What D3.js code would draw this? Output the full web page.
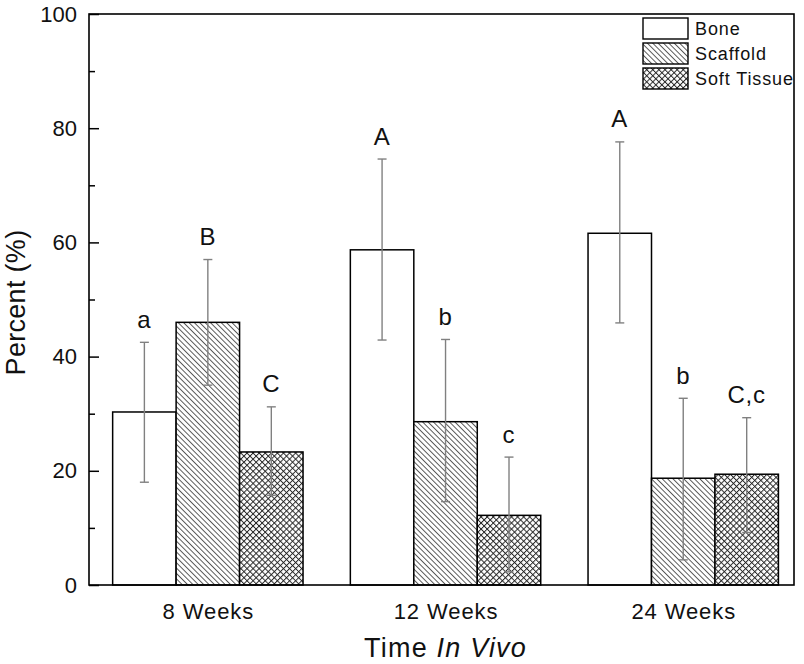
<!DOCTYPE html>
<html><head><meta charset="utf-8">
<script src="https://cdn.jsdelivr.net/npm/d3@7"></script>
<style>body{margin:0;background:#fff}svg{display:block}</style>
</head><body>
<svg id="c" width="804" height="664"></svg>
<script>
const groups = ["8 Weeks", "12 Weeks", "24 Weeks"];
const seriesNames = ["Bone", "Scaffold", "Soft Tissue"];
const boneMean = [30.3, 58.7, 61.6];
const boneErrLow = [18.0, 42.9, 45.9];
const boneErrHigh = [42.5, 74.6, 77.6];
const scaffoldMean = [46.0, 28.6, 18.7];
const scaffoldErrLow = [35.0, 14.6, 4.4];
const scaffoldErrHigh = [57.0, 43.0, 32.7];
const softMean = [23.3, 12.2, 19.4];
const softErrLow = [15.7, 2.3, 9.2];
const softErrHigh = [31.2, 22.4, 29.3];
const boneLabels = ["a", "A", "A"];
const scaffoldLabels = ["B", "b", "b"];
const softLabels = ["C", "c", "C,c"];
const yTicks = [0, 20, 40, 60, 80, 100];
const yMinorTicks = [10, 30, 50, 70, 90];

const series = [
  {name: seriesNames[0], mean: boneMean, lo: boneErrLow, hi: boneErrHigh, lab: boneLabels, fill: "#fff"},
  {name: seriesNames[1], mean: scaffoldMean, lo: scaffoldErrLow, hi: scaffoldErrHigh, lab: scaffoldLabels, fill: "url(#diag)"},
  {name: seriesNames[2], mean: softMean, lo: softErrLow, hi: softErrHigh, lab: softLabels, fill: "url(#cross)"}
];

const svg = d3.select("#c");
const FONT = "'Liberation Sans', Arial, sans-serif";
const x = d3.scaleLinear().domain([0.5, 3.466]).range([89, 794]);
const y = d3.scaleLinear().domain([0, 100]).range([585, 14]);
const barW = 0.267;

const defs = svg.append("defs");
const s1 = 3.8;
const p1 = defs.append("pattern").attr("id", "diag").attr("patternUnits", "userSpaceOnUse")
  .attr("width", s1).attr("height", 10).attr("patternTransform", "rotate(-45)");
p1.append("rect").attr("width", s1).attr("height", 10).attr("fill", "#fff");
p1.append("line").attr("x1", 0.5).attr("y1", 0).attr("x2", 0.5).attr("y2", 10).attr("stroke", "#444").attr("stroke-width", 0.9);
const s2 = 4.3;
const p2 = defs.append("pattern").attr("id", "cross").attr("patternUnits", "userSpaceOnUse")
  .attr("width", s2).attr("height", s2).attr("patternTransform", "rotate(-45)");
p2.append("rect").attr("width", s2).attr("height", s2).attr("fill", "#fff");
p2.append("line").attr("x1", 0.5).attr("y1", 0).attr("x2", 0.5).attr("y2", s2).attr("stroke", "#222").attr("stroke-width", 0.95);
p2.append("line").attr("x1", 0).attr("y1", 0.5).attr("x2", s2).attr("y2", 0.5).attr("stroke", "#222").attr("stroke-width", 0.95);

// bars
series.forEach((s, si) => {
  const off = (si - 1) * barW;
  groups.forEach((g, gi) => {
    const cx = gi + 1 + off;
    svg.append("rect")
      .attr("x", x(cx - barW / 2)).attr("width", x(cx + barW / 2) - x(cx - barW / 2))
      .attr("y", y(s.mean[gi])).attr("height", y(0) - y(s.mean[gi]))
      .attr("fill", s.fill).attr("stroke", "#000").attr("stroke-width", 1.5);
  });
});
// error bars and labels
series.forEach((s, si) => {
  const off = (si - 1) * barW;
  groups.forEach((g, gi) => {
    const cx = x(gi + 1 + off);
    const eg = svg.append("g").attr("stroke", "#808080").attr("stroke-width", 1.4);
    eg.append("line").attr("x1", cx).attr("x2", cx).attr("y1", y(s.lo[gi])).attr("y2", y(s.hi[gi]));
    eg.append("line").attr("x1", cx - 4.5).attr("x2", cx + 4.5).attr("y1", y(s.lo[gi])).attr("y2", y(s.lo[gi]));
    eg.append("line").attr("x1", cx - 4.5).attr("x2", cx + 4.5).attr("y1", y(s.hi[gi])).attr("y2", y(s.hi[gi]));
    svg.append("text").attr("x", cx).attr("y", y(s.hi[gi]) - 14.5)
      .attr("text-anchor", "middle").attr("font-family", FONT).attr("font-size", 24)
      .attr("letter-spacing", 0.8)
      .attr("fill", "#111").text(s.lab[gi]);
  });
});

// frame
svg.append("rect").attr("x", x(0.5)).attr("y", y(100)).attr("width", x(3.466) - x(0.5)).attr("height", y(0) - y(100))
  .attr("fill", "none").attr("stroke", "#000").attr("stroke-width", 1.6);

// y axis
const yAxis = d3.axisLeft(y).tickValues(yTicks).tickSize(-10).tickPadding(14).tickFormat(d3.format("d"));
const ya = svg.append("g").attr("transform", `translate(${x(0.5)},0)`).call(yAxis);
ya.select(".domain").remove();
ya.selectAll(".tick line").attr("stroke", "#000").attr("stroke-width", 1.5);
ya.selectAll(".tick text").attr("font-family", FONT).attr("font-size", 22).attr("fill", "#111").attr("x", -12);
const yMinor = d3.axisLeft(y).tickValues(yMinorTicks).tickSize(-6).tickFormat("");
const ym = svg.append("g").attr("transform", `translate(${x(0.5)},0)`).call(yMinor);
ym.select(".domain").remove();
ym.selectAll(".tick line").attr("stroke", "#000").attr("stroke-width", 1.5);

// x axis labels
const xAxis = d3.axisBottom(x).tickValues([1, 2, 3]).tickSize(0).tickPadding(18).tickFormat((d) => groups[d - 1]);
const xa = svg.append("g").attr("transform", `translate(0,${y(0)})`).call(xAxis);
xa.select(".domain").remove();
xa.selectAll(".tick text").attr("font-family", FONT).attr("font-size", 22).attr("letter-spacing", 0.9).attr("fill", "#111");

// axis titles
const xt = svg.append("text").attr("x", x(2)).attr("y", 657).attr("text-anchor", "middle")
  .attr("font-family", FONT).attr("font-size", 27).attr("letter-spacing", 1.2).attr("fill", "#111");
xt.append("tspan").text("Time ");
xt.append("tspan").attr("font-style", "italic").text("In Vivo");
svg.append("text").attr("transform", `translate(25,${(y(0) + y(100)) / 2 + 3}) rotate(-90)`)
  .attr("text-anchor", "middle").attr("font-family", FONT).attr("font-size", 27).attr("letter-spacing", 0.3).attr("fill", "#111")
  .text("Percent (%)");

// legend
const lg = svg.append("g").attr("transform", "translate(643,18)");
series.forEach((s, i) => {
  lg.append("rect").attr("x", 0).attr("y", i * 25).attr("width", 45).attr("height", 21)
    .attr("fill", s.fill).attr("stroke", "#000").attr("stroke-width", 1.4);
  lg.append("text").attr("x", 52).attr("y", i * 25 + 17).attr("font-family", FONT).attr("font-size", 18)
    .attr("letter-spacing", 0.9).attr("fill", "#111").text(s.name);
});
</script>
</body></html>
